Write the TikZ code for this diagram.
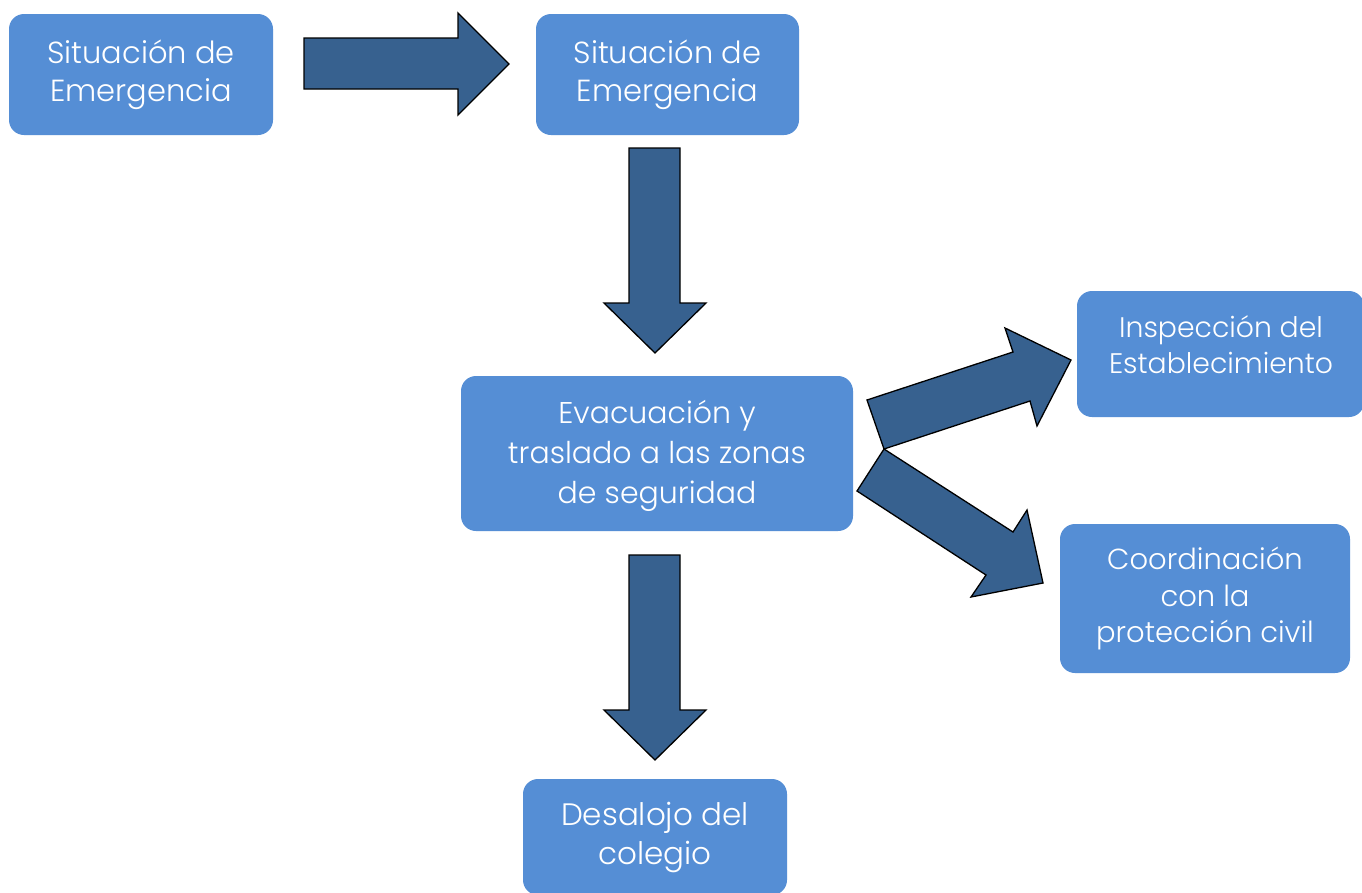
\documentclass[tikz,border=0pt]{standalone}
\usepackage{fontspec}
\setmainfont{Poppins}[UprightFont=* Light]
\definecolor{boxblue}{HTML}{558ED5}
\definecolor{arrowblue}{HTML}{37618F}
\begin{document}
\begin{tikzpicture}[x=1pt,y=-1pt,
  box/.style={draw=none,fill=boxblue,rounded corners=15pt,text=white,align=center,
    font=\fontsize{30.5}{38}\selectfont},
  boxtext/.style={text=white,align=center,inner sep=0pt},
  blockarrow/.style={draw=black,fill=arrowblue,line width=1.3pt,line join=miter}]
\useasboundingbox (0,0) rectangle (1362,892);
\fill[white] (0,0) rectangle (1362,892);
% boxes
\node[box,minimum width=264pt,minimum height=121pt] (sitA) at (141,74.5) {Situación de\\Emergencia};
\node[box,minimum width=263pt,minimum height=121pt] (sitB) at (667.5,74.5) {Situación de\\Emergencia};
\node[box,minimum width=392pt,minimum height=155pt,font=\fontsize{30}{40}\selectfont] (evac) at (657,453.5) {};
\node[boxtext,font=\fontsize{30}{40}\selectfont] (evactext) at (657,456) {Evacuación y\\traslado a las zonas\\de seguridad};
\node[box,minimum width=287pt,minimum height=126pt] (insp) at (1220.5,354) {};
\node[boxtext,font=\fontsize{28.3}{36}\selectfont] (insptext) at (1221,345) {Inspección del\\Establecimiento};
\node[box,minimum width=290pt,minimum height=149pt,font=\fontsize{29}{36.5}\selectfont] (coord) at (1205,598.5) {Coordinación\\con la\\protección civil};
\node[box,minimum width=264pt,minimum height=116pt,font=\fontsize{31}{39}\selectfont] (desal) at (655,837) {Desalojo del\\colegio};
% block arrows
\draw[blockarrow] (304,38) -- (458,38) -- (458,13) -- (509,64) -- (458,115) -- (458,89) -- (304,89) -- cycle;
\draw[blockarrow] (629,148) -- (680,148) -- (680,303) -- (706,303) -- (655,353) -- (604,303) -- (629,303) -- cycle;
\draw[blockarrow] (629,555) -- (680,555) -- (680,710) -- (706,710) -- (655,760) -- (604,710) -- (629,710) -- cycle;
\draw[blockarrow] (867,400) -- (1013,352) -- (1005,328) -- (1071,360) -- (1037,426) -- (1030,401) -- (884,449) -- cycle;
\draw[blockarrow] (884,449) -- (1013,532) -- (1027,510) -- (1043,583) -- (971,597) -- (986,575) -- (857,491) -- cycle;
\end{tikzpicture}
\end{document}
